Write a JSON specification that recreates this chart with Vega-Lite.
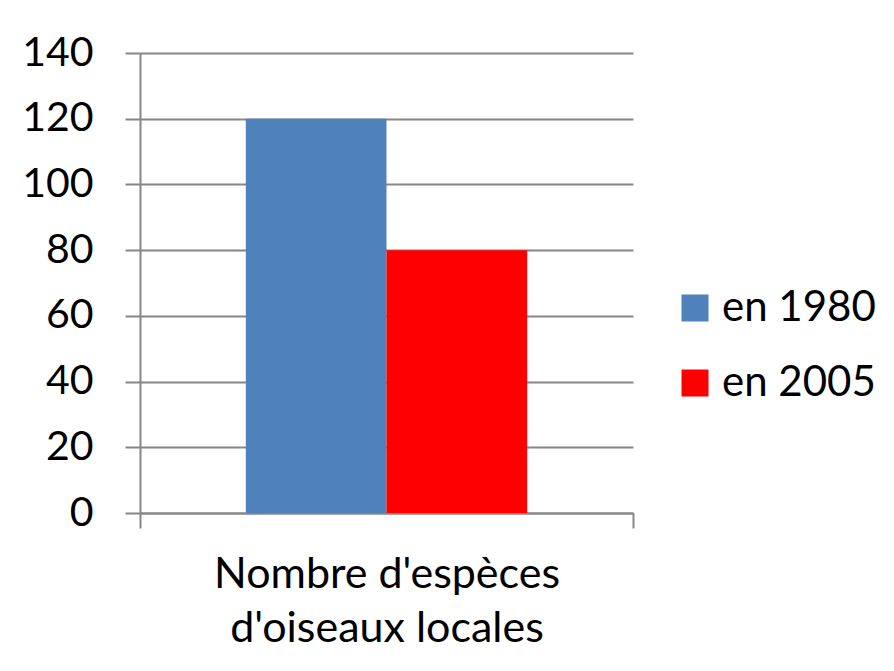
{
  "$schema": "https://vega.github.io/schema/vega-lite/v6.json",
  "autosize": "none",
  "padding": {"left": 140, "top": 53, "right": 261, "bottom": 158},
  "width": 493,
  "height": 460,
  "background": "white",
  "config": {
    "view": {"stroke": null},
    "font": "Lato"
  },
  "data": {
    "values": [
      {"categorie": "Nombre d'espèces d'oiseaux locales", "serie": "en 1980", "valeur": 120},
      {"categorie": "Nombre d'espèces d'oiseaux locales", "serie": "en 2005", "valeur": 80}
    ]
  },
  "mark": {"type": "bar"},
  "encoding": {
    "x": {
      "field": "categorie",
      "type": "nominal",
      "scale": {"paddingInner": 0, "paddingOuter": 0},
      "axis": {
        "title": null,
        "labelAngle": 0,
        "labelFontSize": 43,
        "labelColor": "black",
        "labelExpr": "[slice(datum.label, 0, 16), slice(datum.label, 17)]",
        "labelLineHeight": 54,
        "labelPadding": 25,
        "labelBaseline": "top",
        "tickBand": "extent",
        "tickSize": 15,
        "tickColor": "#868686",
        "tickWidth": 2,
        "domainColor": "#868686",
        "domainWidth": 2,
        "grid": false,
        "labelLimit": 0
      }
    },
    "xOffset": {
      "field": "serie",
      "type": "nominal",
      "scale": {"paddingInner": 0, "paddingOuter": 0.752}
    },
    "y": {
      "field": "valeur",
      "type": "quantitative",
      "scale": {"domain": [0, 140], "nice": false},
      "axis": {
        "title": null,
        "values": [0, 20, 40, 60, 80, 100, 120, 140],
        "labelFontSize": 41,
        "labelColor": "black",
        "labelPadding": 32,
        "tickSize": 15,
        "tickColor": "#868686",
        "tickWidth": 2,
        "domainColor": "#868686",
        "domainWidth": 2,
        "gridColor": "#868686",
        "gridWidth": 2
      }
    },
    "color": {
      "field": "serie",
      "type": "nominal",
      "scale": {"domain": ["en 1980", "en 2005"], "range": ["#4F81BD", "#FF0000"]},
      "legend": {
        "title": null,
        "orient": "none",
        "legendX": 534,
        "legendY": 234,
        "symbolType": "square",
        "symbolSize": 729,
        "symbolStrokeWidth": 0,
        "labelFontSize": 42,
        "labelColor": "black",
        "labelOffset": 6,
        "rowPadding": 33
      }
    }
  }
}
